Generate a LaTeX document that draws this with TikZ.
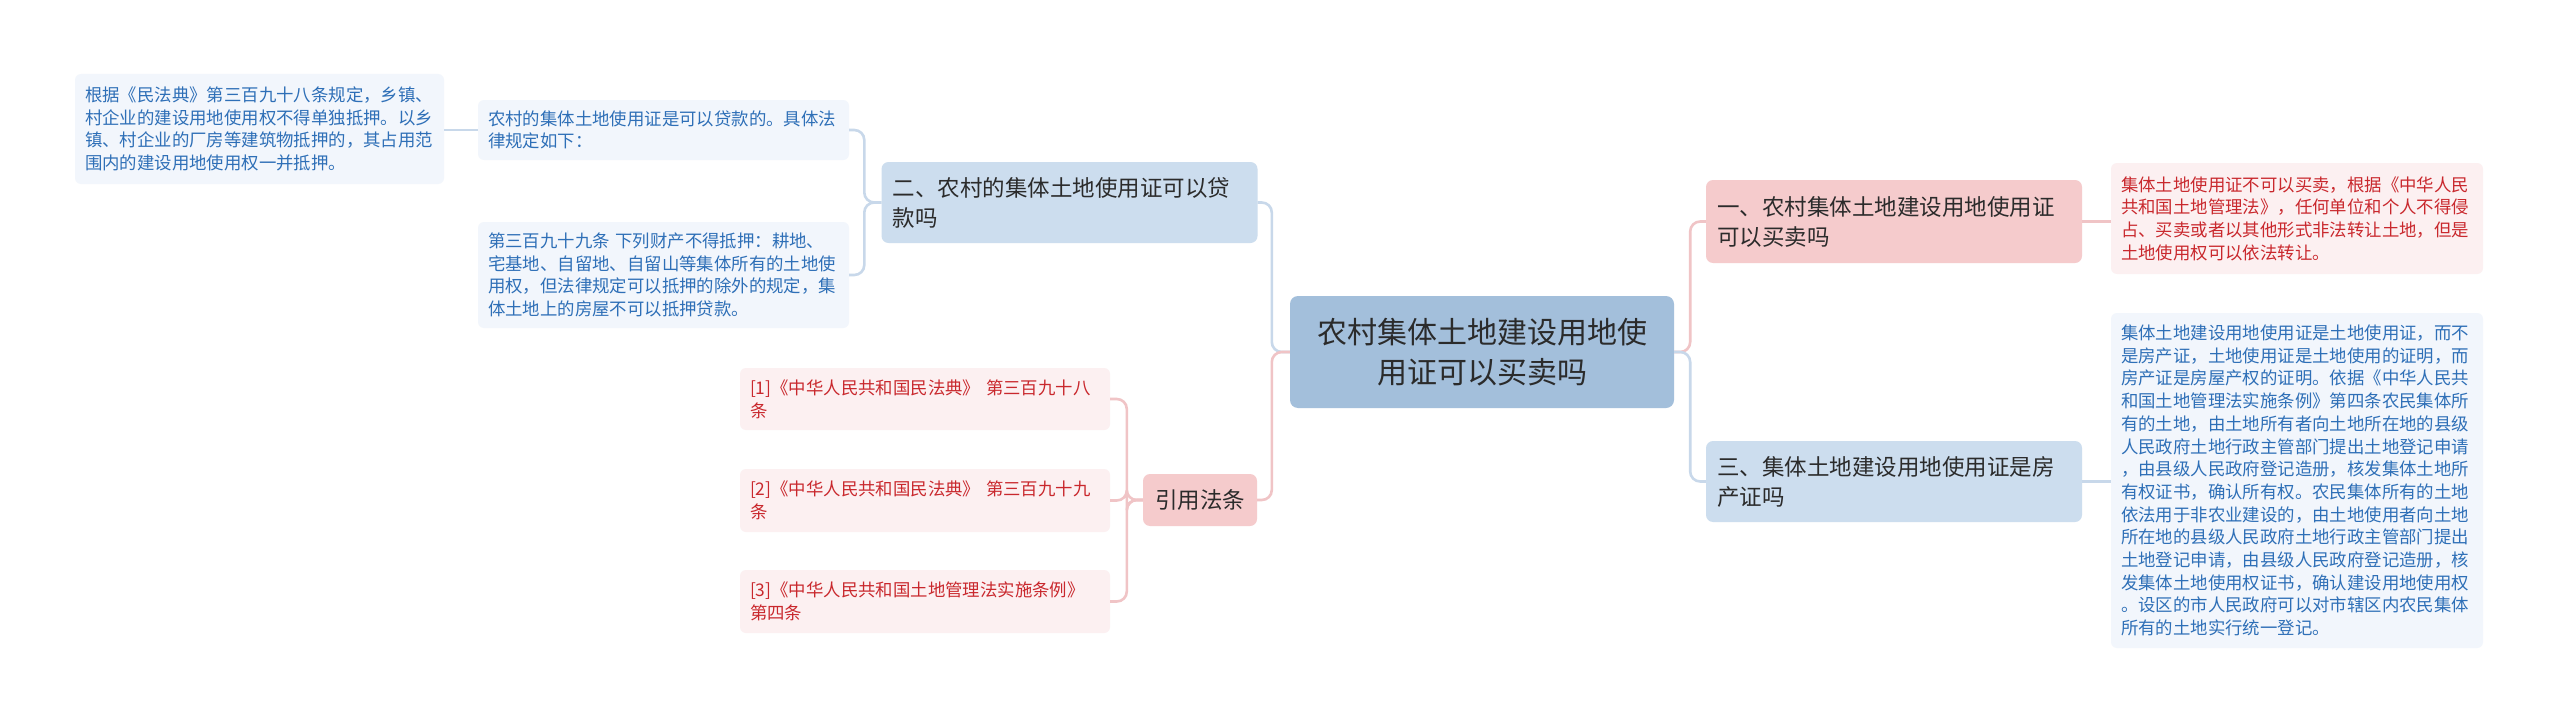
\documentclass[tikz,border=0pt]{standalone}
\usepackage{fontspec}
\setmainfont{Noto Sans CJK SC}
\usetikzlibrary{calc}
\definecolor{rootfill}{HTML}{A3BFDB}
\definecolor{bluefill}{HTML}{CCDDEE}
\definecolor{pinkfill}{HTML}{F5CBCC}
\definecolor{leafblue}{HTML}{F2F6FC}
\definecolor{leafpink}{HTML}{FCF0F1}
\definecolor{txtblue}{HTML}{2E6FB7}
\definecolor{txtred}{HTML}{C9282D}
\definecolor{txtdark}{HTML}{2B2B2B}
\definecolor{lineblue}{HTML}{C8D8EA}
\definecolor{linepink}{HTML}{F0C4C6}
\begin{document}
\begin{tikzpicture}[x=1pt,y=-1pt,
  leaffont/.style={font=\fontsize{17.4pt}{22.7pt}\selectfont},
  leafb/.style={leaffont, fill=leafblue, text=txtblue, rounded corners=6pt, align=left,
    inner xsep=10pt, inner ysep=0pt, text width=351pt, minimum width=371pt},
  leafp/.style={leaffont, fill=leafpink, text=txtred, rounded corners=6pt, align=left,
    inner xsep=10pt, inner ysep=0pt, text width=350pt, minimum width=370pt},
  lvlb/.style={font=\fontsize{22.5pt}{30pt}\selectfont, fill=bluefill, text=txtdark,
    rounded corners=7pt, align=left, inner xsep=11pt, inner ysep=0pt, text width=354pt},
  lvlp/.style={lvlb, fill=pinkfill},
  rootbox/.style={font=\fontsize{30pt}{40pt}\selectfont, fill=rootfill, text=txtdark,
    rounded corners=8pt, align=center, inner xsep=20pt, inner ysep=0pt, text width=344pt},
  cb/.style={draw=lineblue, line width=2.6pt, rounded corners=10pt},
  cp/.style={draw=linepink, line width=2.6pt, rounded corners=10pt}
]
\useasboundingbox (0,0) rectangle (2560,725);
\fill[white] (0,0) rectangle (2560,725);

% root
\node[rootbox, minimum height=112pt] (root) at (1482,352)
  {农村集体土地建设用地使\\用证可以买卖吗};

% level 1
\node[lvlb, minimum height=81pt] (n2) at (1069.5,202.5)
  {二、农村的集体土地使用证可以贷\\款吗};
\node[lvlp, text width=90pt, inner xsep=12pt, align=center, minimum height=52pt] (cite) at (1200,500)
  {引用法条};
\node[lvlp, minimum height=83pt] (n1) at (1894,221.5)
  {一、农村集体土地建设用地使用证\\可以买卖吗};
\node[lvlb, minimum height=81pt] (n3) at (1894,481.5)
  {三、集体土地建设用地使用证是房\\产证吗};

% left leaves
\node[leafb, minimum height=60pt] (L1) at (663.5,130)
  {农村的集体土地使用证是可以贷款的。具体法\\律规定如下：};
\node[leafb, minimum height=106pt] (L2) at (663.5,275)
  {第三百九十九条 下列财产不得抵押：耕地、\\宅基地、自留地、自留山等集体所有的土地使\\用权，但法律规定可以抵押的除外的规定，集\\体土地上的房屋不可以抵押贷款。};
\node[leafb, text width=349pt, minimum width=369pt, minimum height=110pt] (L3) at (259.5,129)
  {根据《民法典》第三百九十八条规定，乡镇、\\村企业的建设用地使用权不得单独抵押。以乡\\镇、村企业的厂房等建筑物抵押的，其占用范\\围内的建设用地使用权一并抵押。};

% citations
\node[leafp, minimum height=62pt] (R1) at (925,399)
  {[1]《中华人民共和国民法典》 第三百九十八\\条};
\node[leafp, minimum height=63pt] (R2) at (925,500.5)
  {[2]《中华人民共和国民法典》 第三百九十九\\条};
\node[leafp, minimum height=63pt] (R3) at (925,601.5)
  {[3]《中华人民共和国土地管理法实施条例》\\第四条};

% right leaves
\node[leafp, text width=352pt, minimum width=372pt, minimum height=111pt] (E1) at (2297,218.5)
  {集体土地使用证不可以买卖，根据《中华人民\\共和国土地管理法》，任何单位和个人不得侵\\占、买卖或者以其他形式非法转让土地，但是\\土地使用权可以依法转让。};
\node[leafb, text width=352pt, minimum width=372pt, minimum height=335pt] (E2) at (2297,480.5)
  {集体土地建设用地使用证是土地使用证，而不\\是房产证，土地使用证是土地使用的证明，而\\房产证是房屋产权的证明。依据《中华人民共\\和国土地管理法实施条例》第四条农民集体所\\有的土地，由土地所有者向土地所在地的县级\\人民政府土地行政主管部门提出土地登记申请\\，由县级人民政府登记造册，核发集体土地所\\有权证书，确认所有权。农民集体所有的土地\\依法用于非农业建设的，由土地使用者向土地\\所在地的县级人民政府土地行政主管部门提出\\土地登记申请，由县级人民政府登记造册，核\\发集体土地使用权证书，确认建设用地使用权\\。设区的市人民政府可以对市辖区内农民集体\\所有的土地实行统一登记。};

% connectors
\draw[cb] (root.west) -- ++(-18,0) |- (n2.east);
\draw[cp] (root.west) -- ++(-18,0) |- (cite.east);
\draw[cp] (root.east) -- ++(16,0) |- (n1.west);
\draw[cb] (root.east) -- ++(16,0) |- (n3.west);

\draw[cb] (n2.west) -- ++(-17,0) |- (L1.east);
\draw[cb] (n2.west) -- ++(-17,0) |- (L2.east);
\draw[cb] (L1.west) -- (L1.west -| L3.east);

\draw[cp] (cite.west) -- ++(-16,0) |- (R1.east);
\draw[cp] (cite.west) -- ++(-16,0) |- (R2.east);
\draw[cp] (cite.west) -- ++(-16,0) |- (R3.east);

\draw[cp] (n1.east) -- (n1.east -| E1.west);
\draw[cb] (n3.east) -- (n3.east -| E2.west);
\end{tikzpicture}
\end{document}
